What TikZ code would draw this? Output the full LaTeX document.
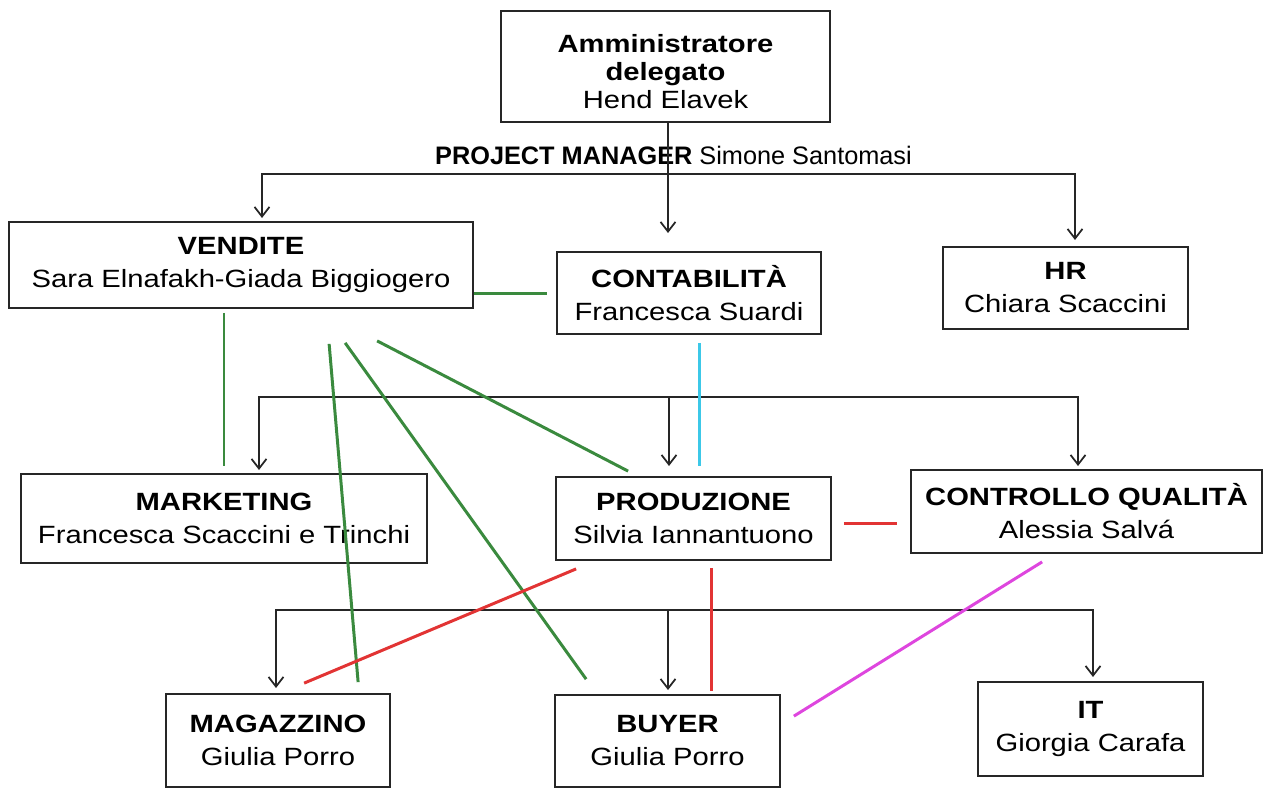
\documentclass[tikz,border=0pt]{standalone}
\usepackage{fontspec}
\setmainfont{Liberation Sans}[FakeStretch=1.17]
\newfontfamily\plainfont{Liberation Sans}
\usetikzlibrary{arrows.meta,calc}

\definecolor{linkgreen}{RGB}{58,138,62}
\definecolor{linkcyan}{RGB}{60,200,232}
\definecolor{linkred}{RGB}{226,52,52}
\definecolor{linkpink}{RGB}{222,70,222}

\begin{document}
\begin{tikzpicture}[x=0.02cm, y=-0.02cm,
    >={Straight Barb[length=5.5pt,width=8.5pt]},
    box/.style={draw=black!85, line width=1pt, align=center, inner sep=0pt,
      font=\fontsize{14.2pt}{18.8pt}\selectfont},
    boxsize/.style 2 args={minimum width=#1*0.02cm, minimum height=#2*0.02cm},
    tree/.style={draw=black!85, line width=1pt},
    link/.style={line width=1.7pt}]
   \useasboundingbox (0,0) rectangle (1266,788);

   % boxes
   \node[box, boxsize={329}{111}, font=\fontsize{14.2pt}{16pt}\selectfont]
      (admin) at (665.5,66.5) {\textbf{Amministratore}\rule{0pt}{16.4pt}\\\textbf{delegato}\\Hend Elavek};
   \node[anchor=base, font=\plainfont\fontsize{14.4pt}{17pt}\selectfont]
      (pm) at (673.5,164) {\textbf{PROJECT MANAGER} Simone Santomasi};
   \node[box, boxsize={464}{86}] (vendite) at (241,265) {\textbf{VENDITE}\\Sara Elnafakh-Giada Biggiogero};
   \node[box, boxsize={264}{82}] (conta) at (689,293) {\textbf{CONTABILITÀ}\\Francesca Suardi};
   \node[box, boxsize={245}{82}] (hr) at (1065.5,288) {\textbf{HR}\\Chiara Scaccini};
   \node[box, boxsize={406}{89}] (mkt) at (224,518.5) {\textbf{MARKETING}\\Francesca Scaccini e Trinchi};
   \node[box, boxsize={275}{83}] (prod) at (693.5,518.5) {\textbf{PRODUZIONE}\\Silvia Iannantuono};
   \node[box, boxsize={351}{83}] (cq) at (1086.5,511.5) {\textbf{CONTROLLO QUALITÀ}\\Alessia Salvá};
   \node[box, boxsize={224}{93}] (magaz) at (278,740.5) {\textbf{MAGAZZINO}\\Giulia Porro};
   \node[box, boxsize={225}{92}] (buyer) at (667.5,741) {\textbf{BUYER}\\Giulia Porro};
   \node[box, boxsize={225}{94}] (it) at (1090.5,729) {\textbf{IT}\\Giorgia Carafa};

   % arrow tips and bus heights
   \coordinate (t1a) at (262,218);
   \coordinate (t1b) at (668,233);
   \coordinate (t1c) at (1075,240);
   \coordinate (bus1) at (0,174);
   \coordinate (t2a) at (259,470);
   \coordinate (t2b) at (669,466);
   \coordinate (t2c) at (1078,466);
   \coordinate (bus2) at (0,397);
   \coordinate (t3a) at (276,688);
   \coordinate (t3b) at (668,690);
   \coordinate (t3c) at (1093,677);
   \coordinate (bus3) at (0,610);

   % hierarchy
   \draw[tree,->] (admin.south -| t1b) -- (t1b);
   \draw[tree,<->] (t1a) -- (t1a |- bus1) -- (t1c |- bus1) -- (t1c);
   \draw[tree,<->] (t2a) -- (t2a |- bus2) -- (t2c |- bus2) -- (t2c);
   \draw[tree,->] (t2b |- bus2) -- (t2b);
   \draw[tree,<->] (t3a) -- (t3a |- bus3) -- (t3c |- bus3) -- (t3c);
   \draw[tree,->] (t3b |- bus3) -- (t3b);

   % relations
   \path[link, draw=linkgreen]
      (vendite.east |- conta.west) edge[shorten >=5pt] (conta.west)
      (mkt.north |- vendite.south) edge[shorten <=2.3pt, shorten >=4pt] (mkt.north)
      ($(vendite.south west)+(321,35)$) edge ($(magaz.north west)+(193,-11)$)
      ($(vendite.south west)+(337,34)$) edge ($(buyer.north west)+(32,-15)$)
      ($(vendite.south west)+(369,32)$) edge ($(prod.north west)+(73,-5)$);
   \draw[link, linkcyan] ($(conta.south west)+(143,8)$) -- ($(prod.north west)+(144,-10)$);
   \path[link, draw=linkred]
      ($(prod.east)+(12,5)$) edge ($(cq.west)+(-13,12)$)
      ($(prod.south west)+(21,8)$) edge ($(magaz.north west)+(139,-10)$)
      ($(prod.south west)+(156,7)$) edge ($(buyer.north west)+(157,-3)$);
   \draw[link, linkpink] ($(cq.south west)+(132,8)$) -- ($(buyer.north east)+(13,22)$);
\end{tikzpicture}
\end{document}
